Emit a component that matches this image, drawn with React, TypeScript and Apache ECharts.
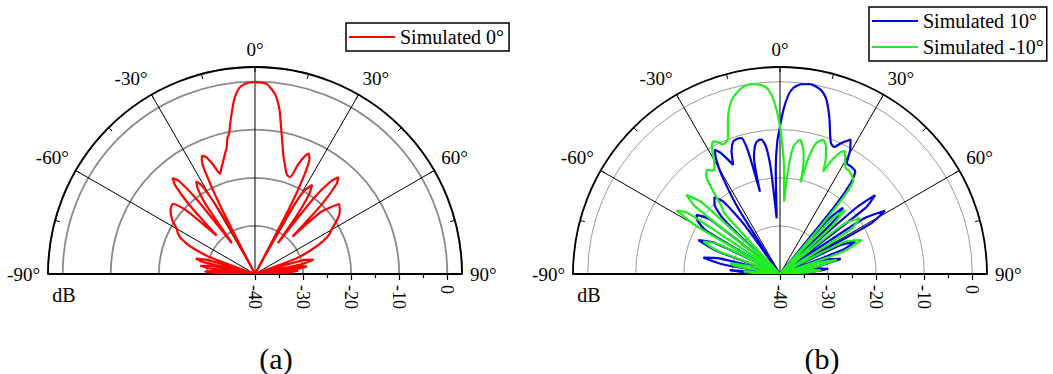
import React, { useEffect, useRef } from 'react';
import * as echarts from 'echarts';

// ---------- data: [angle (deg), gain (dB)] ----------
const simulated0: number[][] = [
  [-90, -37], [-88.5, -32], [-87, -29.6], [-85.5, -31.5], [-84.5, -40],
  [-83, -30.5], [-81.4, -28.5], [-79.5, -31], [-78.5, -40],
  [-77, -29], [-75.5, -27.3], [-73.5, -30], [-71.5, -40],
  [-69.5, -30], [-67, -25.5], [-64.5, -23], [-62, -21.8], [-60, -21.2],
  [-57, -19.5], [-53, -18], [-49.5, -17.5], [-47.2, -20.5], [-45, -28.7],
  [-43.5, -20], [-42, -15.2], [-40.7, -13.7], [-39.3, -15], [-38, -20], [-36.8, -32],
  [-35.2, -22], [-33.8, -18.5], [-32.4, -17.2], [-31, -18.5], [-29.6, -24], [-28.5, -32], [-27.8, -40],
  [-27, -24], [-26, -16.5], [-25, -13.8], [-24, -13.1], [-22.5, -13.8], [-21, -15.6], [-19.2, -17.9],
  [-17.5, -16.8], [-16, -15.8], [-14, -14.2], [-12.6, -13], [-11.5, -11.2], [-10.4, -10.2],
  [-9.5, -8.6], [-8.3, -6.3], [-6.7, -3.3], [-4.6, -1], [-2, -0.2], [0, -0.1],
  [2, -0.15], [3.5, -0.35], [6.3, -2.3], [8.4, -5.3], [9.9, -8.6], [11.7, -12], [13.5, -14.7],
  [15.5, -16.6], [17.8, -18.3], [19.9, -18.6],
  [21.5, -15.5], [23, -13.3], [24, -12.6], [25.3, -13.5], [26.5, -17], [27.5, -24], [28.2, -40],
  [29.2, -26], [30.5, -20], [32.7, -18], [34.2, -20], [35.5, -25], [36.5, -32],
  [37.8, -20], [39.3, -15], [40.8, -13.4], [42.2, -14.8], [43.8, -20], [45, -29],
  [46.8, -21], [50.3, -17.2], [54, -18.2], [57, -19.8], [59.6, -21.5], [62, -22.5], [64.5, -24.5],
  [67, -27.5], [69.5, -31], [71.5, -40],
  [74, -29.5], [76.2, -27.5], [78, -30], [79, -40],
  [80.5, -30.5], [81.6, -29.1], [83, -31], [84, -40],
  [85.6, -31], [87.5, -33], [90, -37],
];

const simulated10: number[][] = [
  [-90, -38], [-88, -34], [-85.5, -29.5], [-83, -40],
  [-80.5, -28], [-78, -23.7], [-75.5, -27], [-73, -40],
  [-70, -26], [-67.4, -21.6], [-64.5, -25], [-62, -40],
  [-59.5, -22], [-57, -19.5], [-54.7, -18.7], [-52, -21.5], [-49, -40],
  [-46, -24], [-43, -20], [-40.5, -19], [-38, -21], [-36, -27], [-34.5, -40],
  [-32.5, -24], [-30.5, -16], [-29, -12.5], [-27.7, -10.8], [-26, -12], [-24.5, -13.8], [-23.2, -15.3],
  [-21.5, -12.5], [-19.5, -10.8], [-17.5, -10.5], [-15.8, -10.6], [-14.6, -13.5], [-13.7, -22.4],
  [-12.5, -15], [-11, -12.8], [-9.5, -11.9], [-7.8, -11.8], [-6.2, -13.5], [-5, -18], [-3.4, -28.4],
  [-2.3, -18], [-1.2, -12.5], [0, -9.3], [1.2, -5.8], [2.7, -2.7], [4.1, -1.2], [6.2, -0.3], [8.9, 0],
  [11.7, -0.5], [13.5, -1.3], [15.2, -2.8], [17.6, -6], [19.8, -9.2], [21.3, -10.8], [23, -11.3],
  [25.3, -9.8], [27.7, -8.4], [29.6, -10.5], [31.1, -13.1], [33.4, -13.2], [36.2, -13.5],
  [37.8, -15.7], [39, -22], [40, -40],
  [41.5, -25], [43.5, -21], [45.5, -24], [47.5, -40],
  [49, -19], [50.3, -14.3], [52.3, -17.5], [54.5, -40],
  [56.5, -19], [58.9, -14.5], [61, -18.5], [62.5, -40],
  [64.5, -26], [66.7, -23], [69, -26], [71, -40],
  [73.5, -29], [76, -27], [78.5, -32], [80, -40],
  [82, -31.5], [84, -30], [86.5, -34], [88, -40], [90, -38],
];

const simulatedMinus10: number[][] = [
  [-90, -38], [-88, -35], [-86, -32.4], [-83, -40],
  [-80, -31], [-78, -29.4], [-75, -34], [-72, -40],
  [-69.5, -26], [-67, -22.7], [-64, -26], [-61.5, -40],
  [-60.2, -20], [-58.5, -14.8], [-56.5, -17], [-54, -40],
  [-51.5, -17.5], [-49.8, -14.5], [-47.5, -18], [-45, -40],
  [-42.5, -23], [-40.5, -21], [-39, -18], [-37, -14.5], [-35.2, -13.5], [-33.5, -14.2], [-32, -14.3],
  [-30, -12.5], [-28.2, -10], [-26.7, -9.1], [-25, -9.8], [-24, -10.5], [-22.5, -10.4], [-21, -9.8],
  [-19.5, -7.5], [-17.5, -4.5], [-15.2, -2.2], [-12, -0.6], [-8.9, 0], [-6, -0.4], [-4, -1.3],
  [-2.7, -2.7], [-1.2, -5.8], [0, -9.3],
  [1, -13], [2.2, -18], [3.2, -24.9], [4.5, -18], [6, -13.3], [8.5, -11.8], [10.5, -13.5],
  [11.8, -16], [12.7, -20.5], [13.8, -15], [15.5, -11.7], [17.9, -10.7], [19.8, -11.8], [21.5, -14],
  [22.9, -16.9], [24.5, -14], [26.5, -11.6], [28, -11.1], [29.5, -12.5], [31.5, -14], [34, -14.2],
  [36.5, -14.8], [38, -15.2], [39.5, -19], [40.5, -28], [41.5, -40],
  [43.5, -24], [45.5, -21], [47.5, -26], [49, -40],
  [52, -23], [55.2, -19.7], [58, -23], [60.5, -40],
  [63.5, -25], [67.4, -21.6], [70.5, -26], [72.5, -40],
  [74.5, -31], [76, -27.8], [78.5, -32], [80.5, -40],
  [83, -33], [85, -31.5], [87.5, -36], [90, -38],
];

const angleRange = [-90, 90];
const dbRange = [-40, 0];
const outerDb = 3.06; // value at the outer arc
const panelLabels = ['(a)', '(b)'];
const legendNames = [['Simulated 0°'], ['Simulated 10°', 'Simulated -10°']];

const SERIF = 'Liberation Serif';
const R = 207;
const CENTERS = [[255, 274], [780, 274]];
const ZERO_R = (R * (dbRange[1] - dbRange[0])) / (outerDb - dbRange[0]);

export default function App() {
  const ref = useRef<HTMLDivElement>(null);
  useEffect(() => {
    document.body.style.margin = '0';
    const chart = echarts.init(ref.current!, undefined, { renderer: 'svg' });
    const polar = CENTERS.map((c) => ({ center: c, radius: [0, R] }));
    const angleAxis = CENTERS.map((_, i) => ({
      polarIndex: i,
      type: 'value',
      min: angleRange[0],
      max: angleRange[1],
      interval: 30,
      startAngle: 180,
      endAngle: 0,
      clockwise: true,
      z: 3,
      axisLine: { show: true, lineStyle: { color: '#000', width: 1.8 } },
      axisTick: { show: true, inside: true, length: 5, lineStyle: { color: '#000', width: 1 } },
      minorTick: { show: true, splitNumber: 2, length: 5, lineStyle: { color: '#000', width: 1 } },
      axisLabel: {
        show: true,
        margin: 8,
        formatter: (v: number) => `${v}°`,
        fontSize: 19,
        fontFamily: SERIF,
        color: '#000',
      },
      splitLine: { show: true, lineStyle: { color: '#000', width: 1 } },
    }));
    const radiusAxis = CENTERS.map((_, i) => ({
      polarIndex: i,
      type: 'value',
      min: dbRange[0],
      max: outerDb,
      interval: 10,
      z: 1,
      axisLine: { show: false },
      axisTick: { show: false },
      axisLabel: { show: false },
      splitLine: {
        show: true,
        lineStyle: { color: i === 0 ? '#8a8a8a' : '#9a9a9a', width: i === 0 ? 1.8 : 1 },
      },
    }));
    const grid: any[] = [];
    const xAxis: any[] = [];
    const yAxis: any[] = [];
    CENTERS.forEach((c) => {
      grid.push({ left: c[0] - R, width: 2 * R, top: c[1] - 20, height: 20 });
      xAxis.push({
        gridIndex: grid.length - 1,
        type: 'value',
        min: 0,
        max: 1,
        axisLine: { show: true, lineStyle: { color: '#000', width: 1.8 } },
        axisTick: { show: false },
        axisLabel: { show: false },
        splitLine: { show: false },
        z: 4,
      });
      yAxis.push({ gridIndex: grid.length - 1, show: false });
      grid.push({ left: c[0], width: ZERO_R, top: c[1] - 20, height: 20 });
      xAxis.push({
        gridIndex: grid.length - 1,
        type: 'value',
        min: dbRange[0],
        max: dbRange[1],
        interval: 10,
        axisLine: { show: false },
        axisTick: { show: true, length: 6, lineStyle: { color: '#000', width: 1.2 } },
        minorTick: { show: true, splitNumber: 2, length: 4, lineStyle: { color: '#000', width: 1.2 } },
        axisLabel: {
          rotate: -90,
          margin: 11,
          fontSize: 18,
          fontFamily: SERIF,
          color: '#000',
        },
        splitLine: { show: false },
        z: 4,
      });
      yAxis.push({ gridIndex: grid.length - 1, show: false });
    });

    const mk = (name: string, data: number[][], idx: number, color: string) => ({
      type: 'line',
      name,
      coordinateSystem: 'polar',
      polarIndex: idx,
      data: data.map(([a, d]) => [d, a]),
      symbol: 'none',
      showSymbol: false,
      smooth: 0.2,
      lineStyle: { color, width: 2.2 },
      itemStyle: { color },
      z: 5,
    });

    const legendCommon = {
      orient: 'vertical',
      borderColor: '#000',
      borderWidth: 1.5,
      borderRadius: 0,
      icon: 'rect',
      itemWidth: 46,
      itemHeight: 2.2,
      itemGap: 6,
      textStyle: { fontSize: 20, fontFamily: SERIF, color: '#000' },
    };

    chart.setOption({
      animation: false,
      backgroundColor: '#fff',
      textStyle: { fontFamily: SERIF },
      polar,
      angleAxis,
      radiusAxis,
      grid,
      xAxis,
      yAxis,
      legend: [
        { ...legendCommon, data: legendNames[0], left: 346, top: 23, padding: [4, 5, 4, 3] },
        { ...legendCommon, data: legendNames[1], left: 869, top: 7, padding: [4, 3, 4, 3] },
      ],
      graphic: [
        ...CENTERS.map((c) => ({
          type: 'text',
          x: c[0] - R + 16,
          y: c[1] + 21,
          style: { text: 'dB', fontSize: 20, fontFamily: SERIF, fill: '#000', align: 'center', verticalAlign: 'middle' },
        })),
        ...CENTERS.map((c, i) => ({
          type: 'text',
          x: c[0] + (i === 0 ? 21 : 42),
          y: 358,
          style: { text: panelLabels[i], fontSize: 30, fontFamily: SERIF, fill: '#000', align: 'center', verticalAlign: 'middle' },
        })),
      ],
      series: [
        mk(legendNames[0][0], simulated0, 0, '#ff0000'),
        mk(legendNames[1][0], simulated10, 1, '#0000dd'),
        mk(legendNames[1][1], simulatedMinus10, 1, '#22ee22'),
      ],
    });
    return () => chart.dispose();
  }, []);
  return <div ref={ref} style={{ width: 1053, height: 374, background: '#fff' }} />;
}
